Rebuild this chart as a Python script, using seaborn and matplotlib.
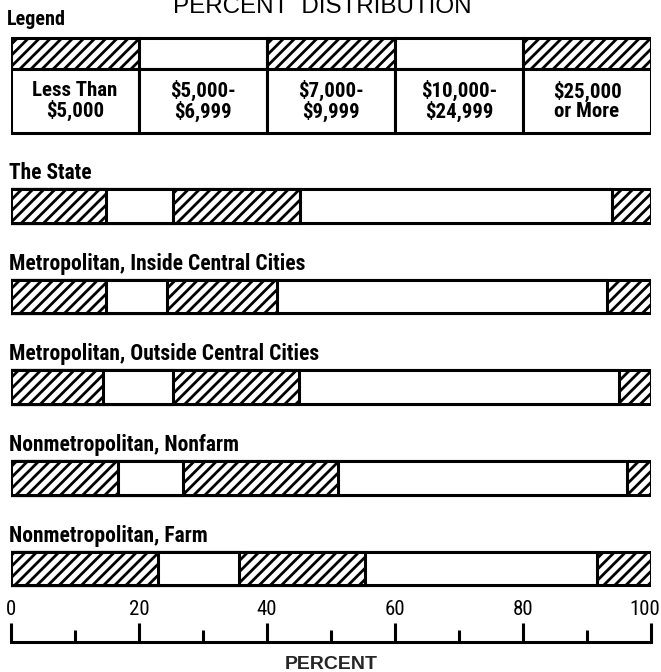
import numpy as np
import pandas as pd
import seaborn as sns
import matplotlib
matplotlib.use('Agg')
import matplotlib.pyplot as plt
from matplotlib.transforms import ScaledTranslation

groups = ["The State", "Metropolitan, Inside Central Cities",
          "Metropolitan, Outside Central Cities", "Nonmetropolitan, Nonfarm",
          "Nonmetropolitan, Farm"]
brackets = ["Less Than\n$5,000", "$5,000-\n$6,999", "$7,000-\n$9,999",
            "$10,000-\n$24,999", "$25,000\nor More"]
under_5000 = [14.8, 14.8, 14.4, 16.7, 22.9]
from_5000 = [10.5, 9.5, 10.9, 10.1, 12.8]
from_7000 = [19.8, 17.3, 19.7, 24.3, 19.6]
from_10000 = [48.8, 51.6, 50.0, 45.1, 36.2]
over_25000 = [6.1, 6.8, 5.0, 3.8, 8.5]
hatched = [True, False, True, False, True]
major_ticks = [0, 20, 40, 60, 80, 100]
minor_ticks = [10, 30, 50, 70, 90]

sns.set_theme(style="white")
plt.rcParams['font.family'] = ['Roboto Condensed', 'DejaVu Sans']
plt.rcParams['text.color'] = 'black'
plt.rcParams['hatch.linewidth'] = 2.0

cols = ["b1", "b2", "b3", "b4", "b5"]
df = pd.DataFrame({"group": groups, "b1": under_5000, "b2": from_5000,
                   "b3": from_7000, "b4": from_10000, "b5": over_25000})
cum = df[cols].cumsum(axis=1)

W, H = 661, 672
fig = plt.figure(figsize=(W / 100, H / 100), dpi=100)
x0, x1 = 11, 651
step, first = 90.6, 206.0


def v(p):
    # pixel row -> data row
    return (p - first) / step


ax = fig.add_axes([x0 / W, 0, (x1 - x0) / W, 1])
lw = 2.2
bar_h = 0.37

# stacked bars: draw cumulative totals back to front
for k in reversed(range(len(cols))):
    sns.barplot(x=cum[cols[k]], y=df["group"], orient="h", order=groups,
                color="white", saturation=1, edgecolor="black", linewidth=lw,
                hatch="///" if hatched[k] else None, width=bar_h,
                errorbar=None, ax=ax)

for i, name in enumerate(groups):
    ax.text(-0.3, i - bar_h / 2 - 10 / step, name, ha="left", va="baseline",
            fontsize=15.5, fontweight="semibold")

# legend block
n = len(brackets)
lefts = np.arange(n) * 100 / n
for j in range(n):
    ax.barh(v(53.5), 100 / n, left=lefts[j], height=31 / step, color="white",
            edgecolor="black", linewidth=lw, hatch="///" if hatched[j] else None)
    ax.barh(v(101), 100 / n, left=lefts[j], height=64 / step, color="white",
            edgecolor="black", linewidth=lw)
    ax.text(lefts[j] + 50 / n, v(101), brackets[j], ha="center", va="center",
            multialignment="center", linespacing=0.95, fontsize=15,
            fontweight="semibold")

ax.text(-0.6, v(25), "Legend", ha="left", va="baseline", fontsize=14.5,
        fontweight="semibold")
ax.text(48.6, v(13), "PERCENT  DISTRIBUTION", ha="center", va="baseline",
        fontsize=17.4, family=['Liberation Sans', 'DejaVu Sans'])

ax.set_xlim(0, 100)
ax.set_ylim(v(H), v(0))
ax.axis("off")

# ruler scale at the bottom
rax = fig.add_axes([x0 / W, (H - 642) / H, (x1 - x0) / W, 19 / H])
rax.set_facecolor("none")
rax.set_xlim(0, 100)
rax.set_ylim(0, 1)
rax.set_yticks([])
for s in ["left", "right", "top"]:
    rax.spines[s].set_visible(False)
rax.spines["bottom"].set_color("black")
rax.spines["bottom"].set_linewidth(lw)
rax.set_xticks(major_ticks)
rax.set_xticklabels([str(t) for t in major_ticks])
rax.set_xticks(minor_ticks, minor=True)
rax.tick_params(axis="x", which="both", direction="in", bottom=True, top=False,
                labelbottom=False, labeltop=True, color="black", width=lw)
rax.tick_params(axis="x", which="major", length=14, pad=3, labelsize=15,
                labelcolor="black")
rax.tick_params(axis="x", which="minor", length=8.5)
last = rax.get_xticklabels()[-1]
last.set_transform(last.get_transform() +
                   ScaledTranslation(-6 / 100, 0, fig.dpi_scale_trans))
rax.set_xlabel("PERCENT", fontsize=14, fontweight="bold", labelpad=10,
               family=['Liberation Sans', 'DejaVu Sans'])

fig.savefig("out.png", dpi=100, facecolor="white")
